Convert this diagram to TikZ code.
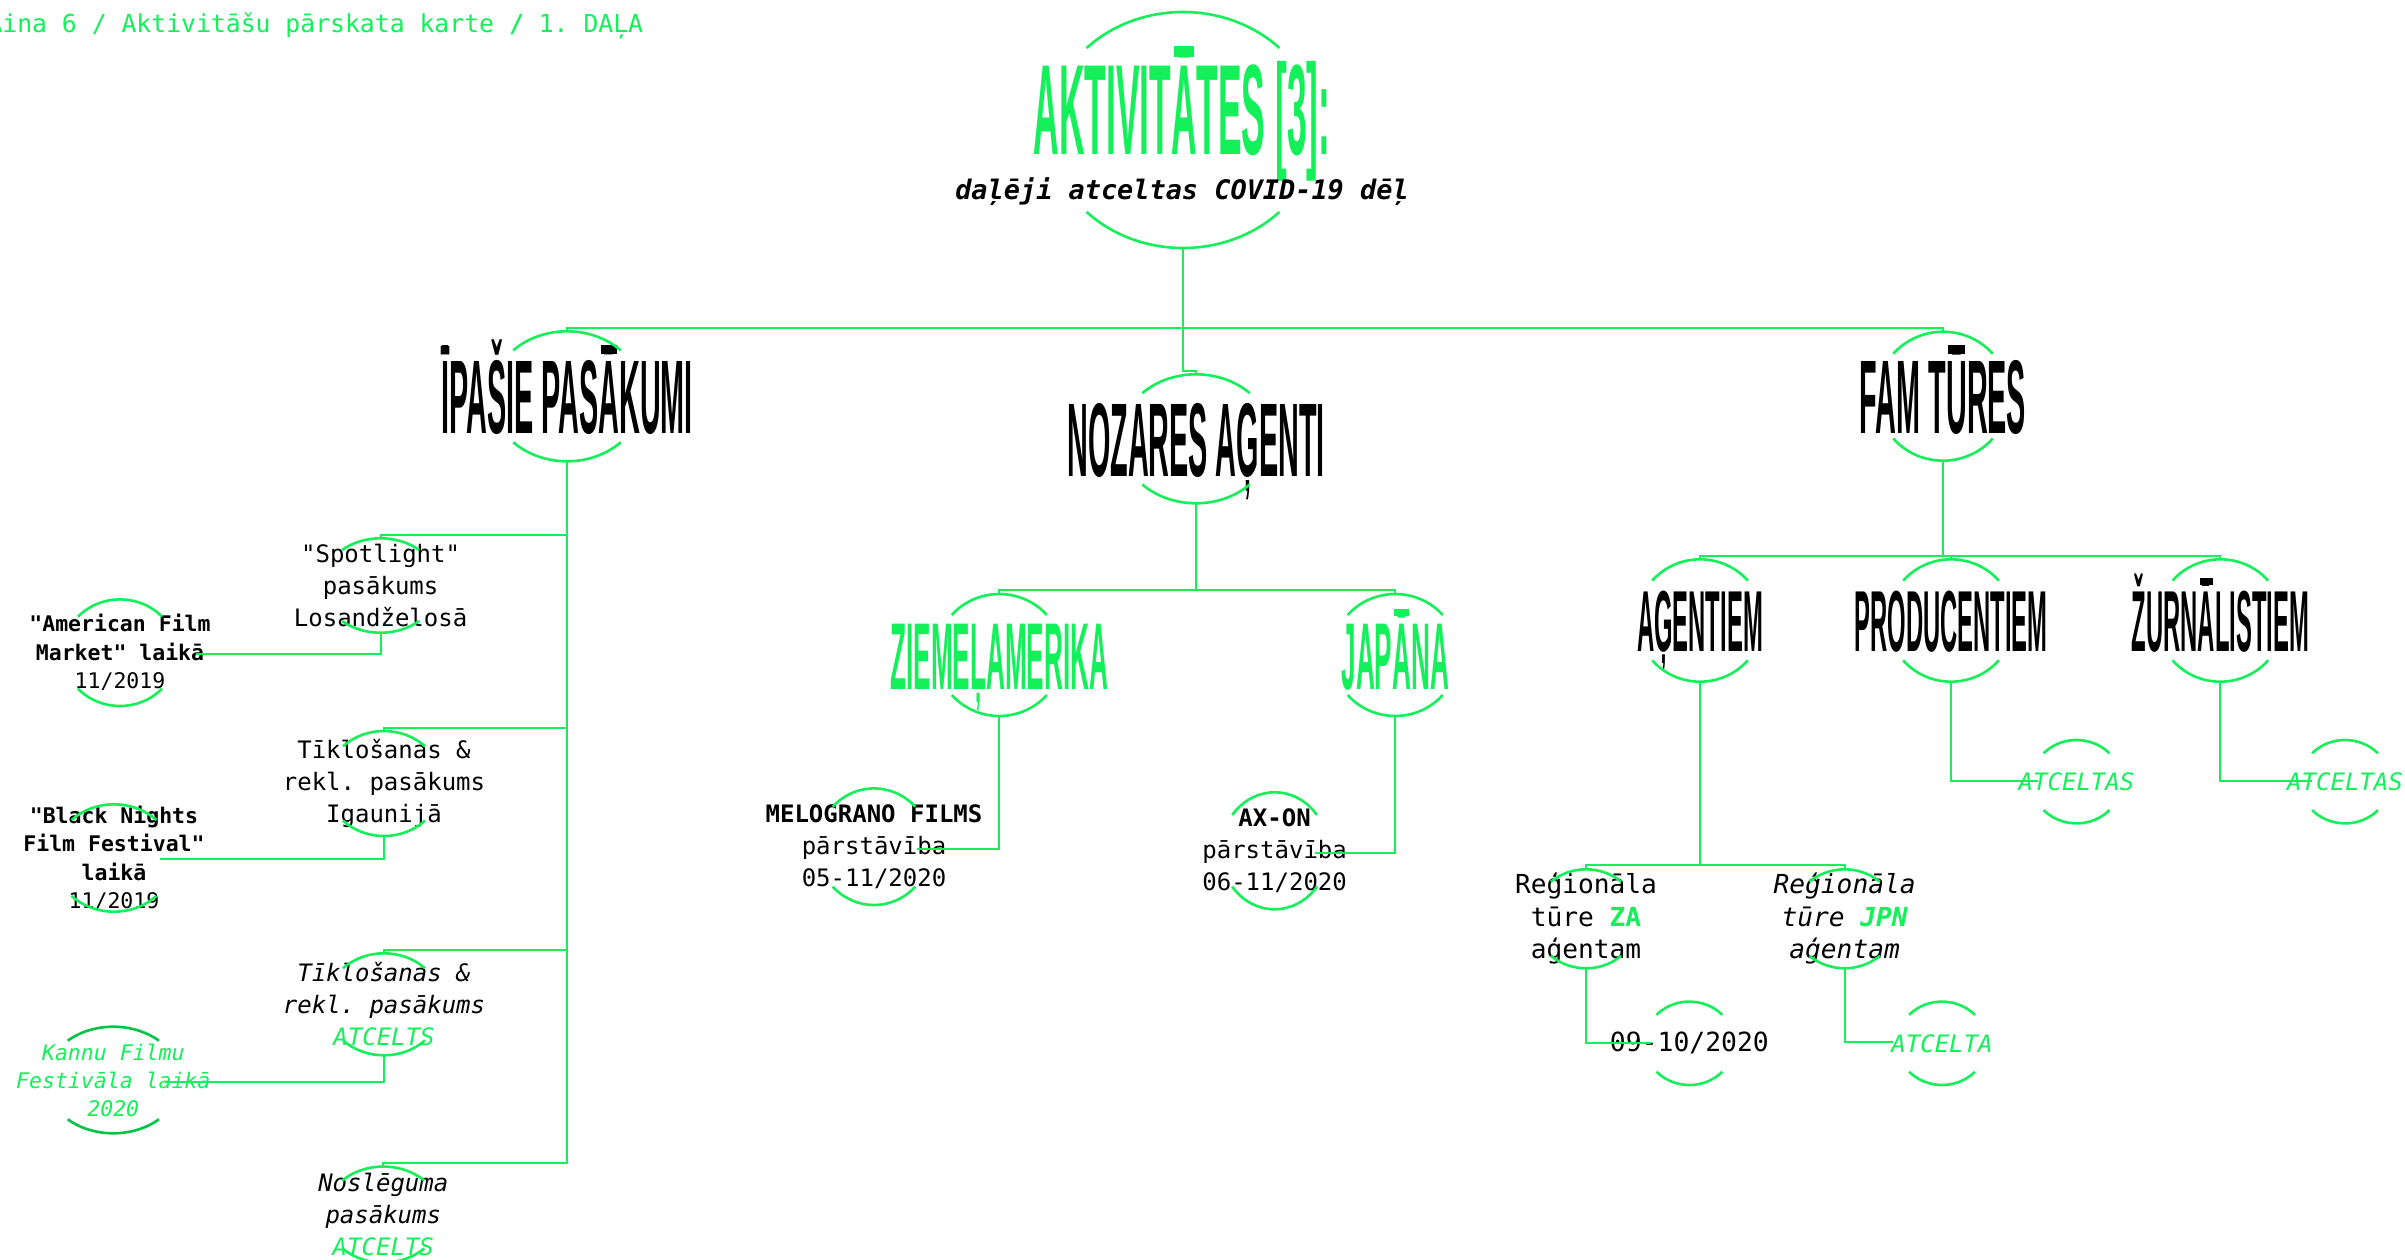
\documentclass[tikz,border=0pt]{standalone}
\usepackage{fontspec}
\usepackage{tikz}
\usetikzlibrary{calc,positioning}
\setmonofont{DejaVu Sans Mono}
\newfontfamily\condfont[FakeStretch=0.275]{Liberation Sans}
\definecolor{mapgreen}{RGB}{20,240,90}
\definecolor{darkgreen}{RGB}{0,196,70}

% two arcs round a node, plus its top and bottom points
\newcommand{\ringat}[5][ring]{%
  \draw[#1] ([shift={(#5:#3pt and #4pt)}]#2.center) arc[start angle=#5, end angle=180-#5, x radius=#3pt, y radius=#4pt];
  \draw[#1] ([shift={(180+#5:#3pt and #4pt)}]#2.center) arc[start angle=180+#5, end angle=360-#5, x radius=#3pt, y radius=#4pt];
  \coordinate (#2-top) at ([yshift=#4pt]#2.center);
  \coordinate (#2-bot) at ([yshift=-#4pt]#2.center);
}
% widen the macron of a condensed capital
\newcommand{\widemac}[1]{\leavevmode\setbox0=\hbox{#1}\rlap{\hbox to \wd0{\hss\rule[0.765em]{0.8\wd0}{0.08em}\hss}}\box0}

\begin{document}
\begin{tikzpicture}[x=1pt, y=-1pt,
    wire/.style={draw=mapgreen, line width=2.2pt},
    ring/.style={draw=mapgreen, line width=2.6pt},
    head/.style={inner sep=0pt, font=\condfont\bfseries\fontsize{104.7}{110}\selectfont, text height=75pt, text depth=0pt},
    subhead/.style={head, font=\condfont\bfseries\fontsize{95}{100}\selectfont, text height=68pt},
    famhead/.style={head, font=\condfont\bfseries\fontsize{86.6}{90}\selectfont, text height=62pt},
    leaf/.style={inner sep=0pt, align=center, font=\ttfamily\fontsize{24}{32}\selectfont},
    italicleaf/.style={leaf, font=\ttfamily\itshape\fontsize{24}{32}\selectfont},
    smallleaf/.style={leaf, font=\ttfamily\fontsize{21.5}{28.5}\selectfont},
    tourleaf/.style={leaf, font=\ttfamily\fontsize{26.2}{32.5}\selectfont},
    gone/.style={inner sep=0pt, text=mapgreen, font=\ttfamily\itshape\fontsize{24}{32}\selectfont}
  ]
  \fill[white] (0,0) rectangle (2405,1260);
  \useasboundingbox (0,0) rectangle (2405,1260);

  \node[anchor=base west, inner sep=0pt, text=mapgreen, font=\ttfamily\fontsize{24.75}{30}\selectfont] (hdr) at (-12.7,32.7)
    {Aina 6 / Aktivitāšu pārskata karte {\bfseries /} 1. DAĻA};

  % root
  \coordinate (root) at (1183,130);
  \node[anchor=base, inner sep=0pt, text=mapgreen, font=\condfont\bfseries\fontsize{128.5}{130}\selectfont] (title) at (1182,155) {AKTIVIT\widemac{Ā}TES [3]:};
  \node[anchor=base, inner sep=0pt, font=\ttfamily\bfseries\itshape\fontsize{26.9}{30}\selectfont] (subtitle) at (1182,200) {daļēji atceltas COVID-19 dēļ};
  \ringat{root}{134}{118}{44}

  % first level
  \node[head] (ipasie) at (567,396.3) {\widemac{Ī}PAŠIE PAS\widemac{Ā}KUMI};
  \node[head] (nozares) at (1196,438.8) {NOZARES AĢENTI};
  \node[head] (fam) at (1943,396.2) {FAM T\widemac{Ū}RES};
  \ringat{ipasie}{76}{65}{45}
  \ringat{nozares}{76}{64.5}{45}
  \ringat{fam}{66}{64.5}{41}

  % ipasie pasakumi
  \node[leaf] (spotlight) at (380.6,585.5) {"Spotlight"\\pasākums\\Losandželosā};
  \node[leaf] (tiklig) at (384,783.5) {Tīklošanas \&\\rekl. pasākums\\Igaunijā};
  \node[italicleaf] (tiklat) at (384,1004.3) {Tīklošanas \&\\rekl. pasākums\\\textcolor{mapgreen}{ATCELTS}};
  \node[italicleaf] (nosleg) at (383.3,1214.5) {Noslēguma\\pasākums\\\textcolor{mapgreen}{ATCELTS}};
  \node[smallleaf] (american) at (120,652.7) {{\bfseries"American Film}\\{\bfseries Market" laikā}\\11/2019};
  \node[smallleaf] (black) at (114,858) {{\bfseries"Black Nights}\\{\bfseries Film Festival"}\\{\bfseries laikā}\\11/2019};
  \node[smallleaf, font=\ttfamily\itshape\fontsize{21.5}{28}\selectfont, text=mapgreen] (kannu) at (113.3,1080) {Kannu Filmu\\Festivāla laikā\\2020};
  \ringat{spotlight}{58.6}{47.2}{48.8}
  \ringat{tiklig}{58}{52.5}{45}
  \ringat{tiklat}{58}{51}{45}
  \ringat{nosleg}{58}{48}{45}
  \ringat{american}{57}{53.3}{42.5}
  \ringat{black}{60}{53.7}{45}
  \ringat[ring, draw=darkgreen]{kannu}{67.5}{53.3}{47.5}

  % nozares agenti
  \node[subhead, text=mapgreen] (ziemel) at (999.3,655) {ZIEMEĻAMERIKA};
  \node[subhead, text=mapgreen] (japana) at (1395.2,655) {JAP\widemac{Ā}NA};
  \node[leaf] (melo) at (874,846.7) {{\bfseries MELOGRANO FILMS}\\pārstāvība\\05-11/2020};
  \node[leaf] (axon) at (1274.6,850.8) {{\bfseries AX-ON}\\pārstāvība\\06-11/2020};
  \ringat{ziemel}{63}{61}{41}
  \ringat{japana}{63}{61}{41}
  \ringat{melo}{56.7}{58.3}{43.3}
  \ringat{axon}{53.6}{58.5}{37.7}

  % fam tures
  \node[famhead] (agentiem) at (1700,620.5) {AĢENTIEM};
  \node[famhead] (producentiem) at (1951,620.5) {PRODUCENTIEM};
  \node[famhead] (zurnal) at (2220.3,620.5) {ŽURN\widemac{Ā}LISTIEM};
  \node[tourleaf] (za) at (1586,918.8) {Reģionāla\\tūre \textbf{\textcolor{mapgreen}{ZA}}\\aģentam};
  \node[tourleaf, font=\ttfamily\itshape\fontsize{26.2}{32.5}\selectfont] (jpn) at (1844.6,918.8) {Reģionāla\\tūre \textbf{\textcolor{mapgreen}{JPN}}\\aģentam};
  \node[inner sep=0pt, font=\ttfamily\fontsize{26.4}{32}\selectfont] (date) at (1689.4,1043.3) {09-10/2020};
  \node[gone] (atcelta) at (1942,1043.3) {ATCELTA};
  \node[gone] (atceltas1) at (2076.5,781.7) {ATCELTAS};
  \node[gone] (atceltas2) at (2345,781.7) {ATCELTAS};
  \ringat{agentiem}{63}{61.2}{40.6}
  \ringat{producentiem}{63}{61.2}{40.6}
  \ringat{zurnal}{63}{61.2}{40.6}
  \ringat{za}{53}{49.5}{48.4}
  \ringat{jpn}{53}{49.5}{48.4}
  \ringat{date}{45}{41.7}{43}
  \ringat{atcelta}{45}{41.7}{43}
  \ringat{atceltas1}{45}{41.7}{43}
  \ringat{atceltas2}{45}{41.7}{43}

  % connectors
  \draw[wire] (ipasie-top) -- ++(0,-3.4) -| (fam-top);
  \draw[wire] (root-bot) -- ++(0,122.7) -| (nozares-top);

  \draw[wire] (ipasie-bot) |- ([yshift=3.3pt]nosleg-top) -- (nosleg-top);
  \foreach \c in {spotlight,tiklig,tiklat}
    \draw[wire] (\c-top) -- ++(0,-3.3) -| (ipasie-bot);
  \draw[wire] (spotlight-bot) |- ([xshift=76pt,yshift=-1.6pt]american.center);
  \draw[wire] (tiklig-bot) |- ([xshift=46pt,yshift=-1.3pt]black.center);
  \draw[wire] (tiklat-bot) |- ([xshift=51.6pt,yshift=-1.7pt]kannu.center);

  \draw[wire] (nozares-bot) -- ++(0,87);
  \draw[wire] (ziemel-top) -- ++(0,-4) -| (japana-top);
  \draw[wire] (ziemel-bot) |- ([xshift=43.4pt,yshift=-2.6pt]melo.center);
  \draw[wire] (japana-bot) |- ([xshift=40.4pt,yshift=-2.5pt]axon.center);

  \draw[wire] (fam-bot) -- ++(0,95.3);
  \draw[wire] (agentiem-top) -- ++(0,-3.3) -| (zurnal-top);
  \draw[wire] (producentiem-top) -- ++(0,-3.3);
  \draw[wire] (producentiem-bot) |- ([xshift=-39pt,yshift=1pt]atceltas1.center);
  \draw[wire] (zurnal-bot) |- ([xshift=-33pt,yshift=1pt]atceltas2.center);
  \draw[wire] (agentiem-bot) -- ++(0,183.3);
  \draw[wire] (za-top) -- ++(0,-4.3) -| (jpn-top);
  \draw[wire] (za-bot) |- ([xshift=-38.4pt]date.center);
  \draw[wire] (jpn-bot) |- ([xshift=-49pt,yshift=1.6pt]atcelta.center);
\end{tikzpicture}
\end{document}
